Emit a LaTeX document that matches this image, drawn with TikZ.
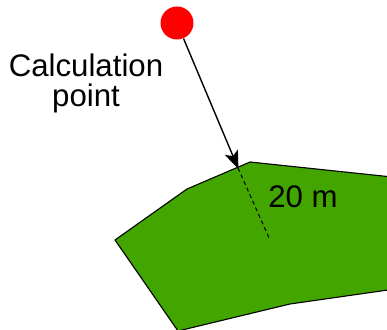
\documentclass[tikz,border=0pt]{standalone}
\usepackage{fontspec}
\setmainfont{Liberation Sans}
\usetikzlibrary{arrows.meta}

\begin{document}
\begin{tikzpicture}[x=0.5pt,y=-0.5pt,>=Stealth,
  label/.style={font=\fontsize{15.6}{15}\selectfont,inner sep=0pt,align=center}]
\clip (0,0) rectangle (387,330);
% 区域（绿色多边形，右下出界）
\filldraw[fill={rgb,255:red,66;green,165;blue,0},line width=0.55pt,line join=round]
  (115,240) -- (187,189) -- (250,162) -- (430,181) -- (430,284) -- (290,304) -- (178,331) -- cycle;
% 计算点（红色圆点）
\node[circle,fill=red,minimum size=16.5pt,inner sep=0pt] (cp) at (177,23) {};
\coordinate (hit) at (238,168);
\coordinate (inner) at (270,240);
% 指向边界的箭头
\draw[->,line width=0.7pt,>={Stealth[length=9pt,width=7pt,inset=2pt]},shorten >=-0.5pt] (cp) -- (hit);
% 20 m 距离（虚线）
\draw[dashed,line width=0.5pt,dash pattern=on 2pt off 1.6pt] (hit) -- (inner);
\node[label,anchor=base] (dist) at (303,208) {20 m};
% 标签
\node[label,anchor=base] (cptext) at (86,107) {Calculation\\point};
\end{tikzpicture}
\end{document}
